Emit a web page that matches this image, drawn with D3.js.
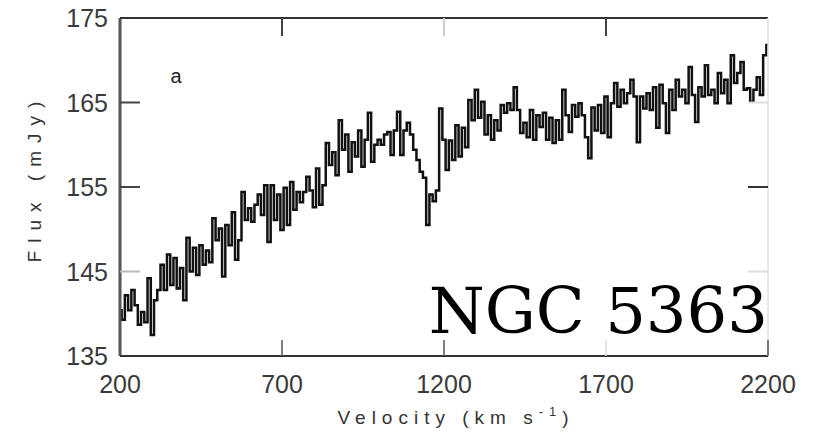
<!DOCTYPE html>
<html>
<head>
<meta charset="utf-8">
<script src="https://cdn.jsdelivr.net/npm/d3@7"></script>
<style>
  body { margin: 0; background: #fff; }
  svg { display: block; }
</style>
</head>
<body>
<div id="area_1"></div>
<script>

var vStart = 200, vStep = 10;

// flux (mJy) every 10 km/s from 200 to 2200
var flux = [
  140.4, 139.3, 142.2, 140.4, 142.8, 141.0, 138.7, 140.2, 139.0, 144.2,
  137.5, 141.6, 142.8, 145.8, 142.8, 147.0, 143.4, 146.6, 143.0, 145.4,
  141.6, 149.0, 145.0, 147.8, 144.6, 148.1, 145.8, 147.5, 146.1, 151.3,
  148.7, 150.1, 144.4, 150.5, 148.1, 152.0, 146.4, 148.7, 154.4, 151.1,
  152.5, 150.9, 152.9, 154.1, 151.7, 155.2, 148.5, 155.2, 151.1, 154.1,
  149.9, 154.9, 150.5, 155.6, 152.3, 154.4, 153.2, 154.4, 156.2, 154.6,
  152.6, 157.2, 152.9, 155.2, 160.2, 157.6, 159.1, 156.4, 162.9, 159.4,
  161.2, 156.8, 160.3, 158.6, 161.7, 157.4, 160.6, 163.8, 158.0, 160.0,
  160.6, 160.0, 161.2, 161.5, 158.8, 161.7, 163.9, 158.8, 161.7, 162.6,
  161.2, 159.4, 158.2, 156.8, 156.1, 150.5, 154.1, 153.3, 154.6, 164.3,
  160.6, 157.0, 160.5, 158.2, 162.3, 158.6, 162.0, 159.7, 165.3, 162.9,
  166.5, 163.2, 165.1, 161.2, 163.5, 160.6, 162.9, 161.7, 164.7, 163.8,
  164.9, 164.1, 166.8, 164.1, 161.4, 162.6, 160.9, 164.1, 160.6, 163.5,
  162.1, 163.8, 160.6, 163.2, 160.2, 162.9, 160.6, 166.5, 163.5, 161.5,
  164.7, 163.3, 164.9, 163.5, 160.9, 158.4, 164.4, 161.7, 164.7, 161.4,
  165.7, 160.9, 164.9, 167.3, 164.5, 166.5, 164.9, 166.1, 167.7, 165.7,
  160.3, 165.7, 164.3, 166.1, 164.1, 166.8, 162.0, 167.1, 164.9, 161.4,
  166.5, 164.1, 167.7, 165.7, 166.5, 164.9, 169.2, 165.9, 162.7, 166.8,
  165.7, 169.4, 165.9, 166.5, 164.9, 168.5, 166.1, 167.7, 164.9, 170.6,
  167.3, 168.5, 169.8, 166.5, 166.7, 165.1, 166.5, 168.0, 165.9, 170.6,
  171.8
];

var xTicks = [200, 700, 1200, 1700, 2200];
var yTicks = [135, 145, 155, 165, 175];

var data = flux.map(function (f, i) { return { v: vStart + i * vStep, f: f }; });

var width = 815, height = 435;
var mLeft = 120, mRight = 768, mTop = 18, mBottom = 356;

var x = d3.scaleLinear().domain([200, 2200]).range([mLeft, mRight]);
var y = d3.scaleLinear().domain([135, 175]).range([mBottom, mTop]);

var svg = d3.select("#area_1")
  .append("svg")
  .attr("width", width)
  .attr("height", height);

//spectrum
svg.append("path")
  .datum(data)
  .attr("fill", "none")
  .attr("stroke", "#111")
  .attr("stroke-width", 2.5)
  .attr("d", d3.line()
    .x(d => x(d.v))
    .y(d => y(d.f))
    .curve(d3.curveStep)
  );

// frame
svg.append("line").attr("x1", mLeft).attr("x2", mLeft).attr("y1", mTop).attr("y2", mBottom)
  .attr("stroke", "#555").attr("stroke-width", 3);
svg.append("line").attr("x1", mLeft).attr("x2", mRight).attr("y1", mTop).attr("y2", mTop)
  .attr("stroke", "#333").attr("stroke-width", 2);
svg.append("line").attr("x1", mLeft).attr("x2", mRight).attr("y1", mBottom).attr("y2", mBottom)
  .attr("stroke", "#333").attr("stroke-width", 2);
svg.append("line").attr("x1", mRight).attr("x2", mRight).attr("y1", mTop).attr("y2", mBottom)
  .attr("stroke", "#e2e2e2").attr("stroke-width", 1.5);

// inward ticks
var inner = yTicks.slice(1, -1);
svg.append("g").selectAll("line").data(inner).enter().append("line")
  .attr("x1", mLeft).attr("x2", mLeft + 20)
  .attr("y1", d => y(d)).attr("y2", d => y(d))
  .attr("stroke", d => d == 145 ? "#bbb" : "#444").attr("stroke-width", 2);
svg.append("g").selectAll("line").data(inner).enter().append("line")
  .attr("x1", mRight - 20).attr("x2", mRight)
  .attr("y1", d => y(d)).attr("y2", d => y(d))
  .attr("stroke", d => d == 155 ? "#333" : "#ddd").attr("stroke-width", 2);
svg.append("g").selectAll("line").data(xTicks.slice(1)).enter().append("line")
  .attr("x1", d => x(d)).attr("x2", d => x(d))
  .attr("y1", mBottom).attr("y2", mBottom - 16)
  .attr("stroke", d => d == 1700 ? "#ddd" : "#555").attr("stroke-width", 1.5);
svg.append("g").selectAll("line").data(xTicks.slice(1, -1)).enter().append("line")
  .attr("x1", d => x(d)).attr("x2", d => x(d))
  .attr("y1", mTop).attr("y2", mTop + 18)
  .attr("stroke", d => d == 1200 ? "#ccc" : "#444").attr("stroke-width", 2);

// tick labels
svg.append("g").selectAll("text").data(yTicks).enter().append("text")
  .attr("x", 108).attr("y", d => y(d))
  .attr("dy", "0.36em")
  .attr("text-anchor", "end")
  .style("font-family", "Liberation Sans, sans-serif")
  .style("font-size", "25px")
  .style("fill", "#3a3a3a")
  .text(d => d);

svg.append("g").selectAll("text").data(xTicks).enter().append("text")
  .attr("x", d => x(d)).attr("y", 393)
  .attr("text-anchor", "middle")
  .style("font-family", "Liberation Sans, sans-serif")
  .style("font-size", "25px")
  .style("fill", "#3a3a3a")
  .text(d => d);

// axis titles
var xt = svg.append("text")
  .attr("x", 456).attr("y", 424)
  .attr("text-anchor", "middle")
  .style("font-family", "Liberation Sans, sans-serif")
  .style("font-size", "19px")
  .style("letter-spacing", "6px")
  .style("fill", "#333");
xt.append("tspan").text("Velocity (km s");
xt.append("tspan").attr("dy", -8).style("font-size", "13px").text("-1");
xt.append("tspan").attr("dy", 8).text(")");

svg.append("text")
  .attr("transform", "translate(41,178) rotate(-90)")
  .attr("text-anchor", "middle")
  .style("font-family", "Liberation Sans, sans-serif")
  .style("font-size", "19px")
  .style("letter-spacing", "8px")
  .style("fill", "#333")
  .text("Flux (mJy)");

svg.append("text")
  .attr("x", 176).attr("y", 83)
  .attr("text-anchor", "middle")
  .style("font-family", "Liberation Sans, sans-serif")
  .style("font-size", "20px")
  .style("fill", "#222")
  .text("a");

svg.append("text")
  .attr("x", 768).attr("y", 333)
  .attr("text-anchor", "end")
  .style("font-family", "DejaVu Serif, serif")
  .style("font-size", "64px")
  .style("fill", "#000")
  .text("NGC 5363");

</script>
</body>
</html>
